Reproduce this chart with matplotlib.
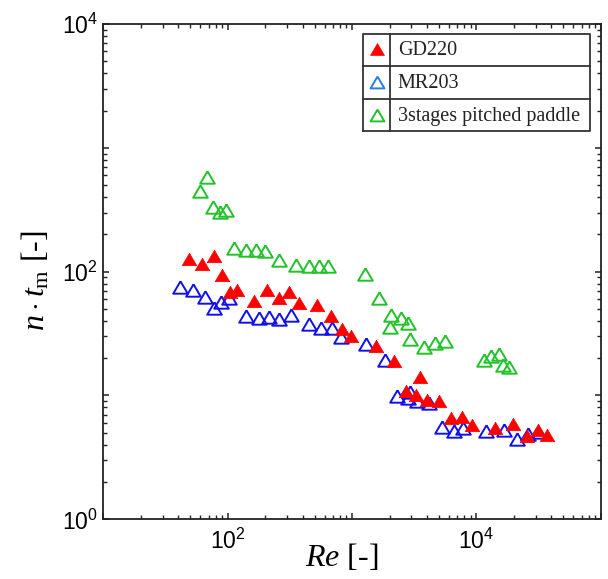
import numpy as np
import matplotlib
matplotlib.use('Agg')
import matplotlib.pyplot as plt
from matplotlib.ticker import FixedLocator, LogLocator, FuncFormatter, NullFormatter

plt.rcParams['font.family'] = 'Liberation Sans'
plt.rcParams['mathtext.fontset'] = 'custom'
plt.rcParams['mathtext.rm'] = 'Liberation Serif'
plt.rcParams['mathtext.it'] = 'Liberation Serif:italic'

# GD220 impeller
re_gd = [48.7, 62.4, 76.8, 90.2, 103.2, 118.1, 162.7, 208, 256.3, 308.3,
         375.4, 526.2, 673.8, 830, 974.5, 1554, 2166, 3500, 2729, 3251,
         4020, 4970, 6259, 7694, 9135, 14090, 19650, 25530, 31050, 36650]
nt_gd = [126.5, 115.2, 134.9, 93.9, 68.1, 71.0, 57.9, 71.0, 61.2, 68.1,
         55.8, 54.2, 44.2, 34.7, 30.5, 25.3, 18.96, 14.08, 10.95, 10.07,
         9.27, 9.01, 6.63, 6.73, 5.77, 5.42, 5.91, 4.75, 5.22, 4.83]

# MR203 impeller
re_mr = [41.6, 52.4, 65.1, 77.2, 88.5, 101.9, 140.4, 177.2, 215.9, 256.3,
         322.1, 445.7, 560.3, 693.9, 814.7, 1292, 1834, 2302, 2938, 2805,
         3330, 4172, 5302, 6554, 7838, 11890, 16640, 21230, 26150, 31050]
nt_mr = [75.5, 71.0, 62.0, 50.5, 56.8, 60.9, 43.8, 42.4, 42.7, 41.2,
         44.6, 37.5, 35.4, 34.8, 29.6, 25.9, 19.5, 9.98, 10.66, 9.53,
         9.01, 8.68, 5.56, 5.16, 5.45, 5.13, 5.22, 4.42, 4.88, 5.09]

# 3 stages pitched paddle
re_pp = [59.3, 67.9, 75.8, 85.8, 95.9, 112.1, 140.4, 167.6, 198.7, 259.6,
         353.3, 445.7, 542.9, 644.7, 1269, 1643, 2039, 2452, 2820, 2001,
         2894, 3769, 4677, 5552, 11400, 13160, 15120, 16340, 18320]
nt_pp = [450.4, 577.9, 334.4, 305.9, 314.6, 154.2, 150.8, 148.6, 145.9, 124.1,
         113.1, 111.6, 110.4, 111.6, 95.3, 60.9, 44.6, 41.96, 38.7, 35.5,
         28.4, 24.7, 26.4, 27.7, 19.5, 20.8, 21.8, 17.6, 16.9]

labels = ['GD220', 'MR203', '3stages pitched paddle']

red = '#ff0000'
blue = '#1010ee'
green = '#22c22a'

# slightly flattened up-triangle
tri = [(0, 0.85), (-1, -0.85), (1, -0.85), (0, 0.85)]

fig = plt.figure(figsize=(6.08, 5.79), dpi=100)
ax = fig.add_axes([0.1702, 0.1031, 0.818, 0.8554])
ax.set_xscale('log')
ax.set_yscale('log')
ax.set_xlim(10, 1e5)
ax.set_ylim(1, 1e4)

ax.plot(re_mr, nt_mr, marker=tri, ms=10.5, mfc='none', mec=blue, mew=1.4, ls='none')
ax.plot(re_gd, nt_gd, marker=tri, ms=10.5, mfc=red, mec=red, mew=0.5, ls='none')
ax.plot(re_pp, nt_pp, marker=tri, ms=10.5, mfc='none', mec=green, mew=1.4, ls='none')

# ticks: every decade, labels every second decade
def fmt(v, pos):
    e = int(round(np.log10(v)))
    if e % 2 == 0:
        return r'$\mathregular{10^{%d}}$' % e
    return ''

ax.xaxis.set_major_locator(FixedLocator([1e1, 1e2, 1e3, 1e4, 1e5]))
ax.yaxis.set_major_locator(FixedLocator([1e0, 1e1, 1e2, 1e3, 1e4]))
ax.xaxis.set_minor_locator(LogLocator(base=10, subs=np.arange(2, 10), numticks=20))
ax.yaxis.set_minor_locator(LogLocator(base=10, subs=np.arange(2, 10), numticks=20))
ax.xaxis.set_major_formatter(FuncFormatter(fmt))
ax.yaxis.set_major_formatter(FuncFormatter(fmt))
ax.xaxis.set_minor_formatter(NullFormatter())
ax.yaxis.set_minor_formatter(NullFormatter())
ax.tick_params(which='both', direction='in', top=True, right=True, labelsize=16.5, color='#222222')
ax.tick_params(which='major', length=4.5, width=1.1)
ax.tick_params(which='minor', length=2.7, width=1.0)
ax.tick_params(axis='x', pad=7)
ax.tick_params(axis='y', pad=4)
for s in ax.spines.values():
    s.set_linewidth(1.3)
    s.set_color('#222222')

ax.set_xlabel(r'$Re$ [-]', fontsize=23, family='Liberation Serif')
ax.set_ylabel(r'$n\cdot t_{\mathrm{m}}$ [-]', fontsize=23, family='Liberation Serif')
ax.xaxis.set_label_coords(0.479, -0.045)
ax.yaxis.set_label_coords(-0.105, 0.481)

# boxed legend with row and column rules
x0, x1, xd = 0.522, 0.978, 0.5759
y0, y1 = 0.7846, 0.980
rows = [0.9152, 0.8492]
lc = '#333333'
ax.plot([x0, x1, x1, x0, x0], [y0, y0, y1, y1, y0], color=lc, lw=1.3, transform=ax.transAxes, clip_on=False)
for yr in rows:
    ax.plot([x0, x1], [yr, yr], color=lc, lw=1.3, transform=ax.transAxes)
ax.plot([xd, xd], [y0, y1], color=lc, lw=1.3, transform=ax.transAxes)
centers = [0.9505, 0.8824, 0.8169]
styles = [dict(mfc=red, mec=red, mew=0.5),
          dict(mfc='none', mec='#2a7fd8', mew=1.4),
          dict(mfc='none', mec=green, mew=1.4)]
for yc, lab, st in zip(centers, labels, styles):
    ax.plot([0.5497], [yc], marker=tri, ms=10, transform=ax.transAxes, **st)
    ax.text(0.592, yc - 0.003, lab, transform=ax.transAxes, va='center', ha='left',
            fontsize=14.5, family='Liberation Serif', color='#222222')

fig.savefig('out.png', dpi=100)
